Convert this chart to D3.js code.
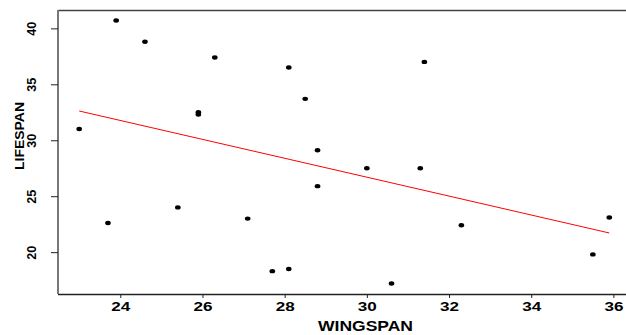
<!DOCTYPE html>
<html>
<head>
<meta charset="utf-8">
<script src="https://cdn.jsdelivr.net/npm/d3@7"></script>
<style>
  html, body { margin: 0; padding: 0; background: #fff; }
  svg { display: block; }
  text { font-family: "Liberation Sans", Arial, Helvetica, sans-serif; font-weight: bold; fill: #000; }
</style>
</head>
<body>
<svg id="chart" width="626" height="335"></svg>
<script>
// Wingspan vs lifespan observations
const wingspan = [23.0, 23.9, 24.6, 26.3, 28.1, 28.5, 25.9, 25.9, 28.8, 31.4, 23.7,
                  25.4, 27.1, 27.7, 28.1, 28.8, 30.0, 31.3, 32.3, 30.6, 35.5, 35.9];
const lifespan = [31.0, 40.7, 38.8, 37.4, 36.5, 33.7, 32.5, 32.3, 29.1, 37.0, 22.6,
                  24.0, 23.0, 18.3, 18.5, 25.9, 27.5, 27.5, 22.4, 17.2, 19.8, 23.1];
const xTicks = [24, 26, 28, 30, 32, 34, 36];
const yTicks = [20, 25, 30, 35, 40];
const xTitle = "WINGSPAN";
const yTitle = "LIFESPAN";

const points = wingspan.map((w, i) => ({ x: w, y: lifespan[i] }));

// Axis ranges padded by 4% on each side
function padded(values) {
  const [lo, hi] = d3.extent(values);
  const pad = (hi - lo) * 0.04;
  return [lo - pad, hi + pad];
}

const plot = { left: 58, right: 630.5, top: 10, bottom: 294 };

const x = d3.scaleLinear().domain(padded(wingspan)).range([plot.left, plot.right]);
const y = d3.scaleLinear().domain(padded(lifespan)).range([plot.bottom, plot.top]);

// Least-squares fit of lifespan on wingspan
const mx = d3.mean(wingspan), my = d3.mean(lifespan);
const sxy = d3.sum(points, p => (p.x - mx) * (p.y - my));
const sxx = d3.sum(points, p => (p.x - mx) ** 2);
const slope = sxy / sxx;
const intercept = my - slope * mx;
const [xMin, xMax] = d3.extent(wingspan);

const svg = d3.select("#chart");

// Plot frame
svg.append("line")
  .attr("x1", plot.left).attr("x2", plot.right)
  .attr("y1", plot.top + 0.5).attr("y2", plot.top + 0.5)
  .attr("stroke", "#444").attr("stroke-width", 1.6);

// X axis
const xAxis = svg.append("g")
  .attr("transform", `translate(0,${plot.bottom})`)
  .call(d3.axisBottom(x).tickValues(xTicks).tickSize(4).tickPadding(4).tickFormat(d3.format("d")));
xAxis.select(".domain").attr("stroke", "#222").attr("stroke-width", 1.3)
  .attr("d", `M${plot.left},0.5H${plot.right}`);
xAxis.selectAll(".tick line").attr("stroke", "#222");
xAxis.selectAll(".tick text")
  .attr("font-size", 13)
  .attr("dy", "0.72em")
  .attr("textLength", 19).attr("lengthAdjust", "spacingAndGlyphs")
  .attr("x", -9.5).attr("text-anchor", "start");

// Y axis
const yAxis = svg.append("g")
  .attr("transform", `translate(${plot.left},0)`)
  .call(d3.axisLeft(y).tickValues(yTicks).tickSize(7).tickFormat(d3.format("d")));
yAxis.select(".domain").attr("stroke", "#777").attr("stroke-width", 2)
  .attr("d", `M0,${plot.top}V${plot.bottom}`);
yAxis.selectAll(".tick line").attr("stroke", "#222");
yAxis.selectAll(".tick text")
  .attr("font-size", 12.5)
  .attr("transform", "rotate(-90)")
  .attr("x", -7).attr("y", -22).attr("dy", 0)
  .attr("text-anchor", "start")
  .attr("textLength", 14).attr("lengthAdjust", "spacingAndGlyphs");

// Axis titles
svg.append("text")
  .attr("x", 318).attr("y", 330.5)
  .attr("font-size", 14)
  .attr("textLength", 95).attr("lengthAdjust", "spacingAndGlyphs")
  .text(xTitle);

svg.append("text")
  .attr("transform", "translate(24,170) rotate(-90)")
  .attr("font-size", 12.8)
  .attr("textLength", 68).attr("lengthAdjust", "spacingAndGlyphs")
  .text(yTitle);

// Fitted line
svg.append("line")
  .attr("x1", x(xMin)).attr("y1", y(intercept + slope * xMin))
  .attr("x2", x(xMax)).attr("y2", y(intercept + slope * xMax))
  .attr("stroke", "#ff0000").attr("stroke-width", 1);

// Observations
svg.append("g").selectAll("ellipse")
  .data(points)
  .join("ellipse")
  .attr("cx", d => x(d.x))
  .attr("cy", d => y(d.y))
  .attr("rx", 2.8).attr("ry", 2.2)
  .attr("fill", "#000");
</script>
</body>
</html>
